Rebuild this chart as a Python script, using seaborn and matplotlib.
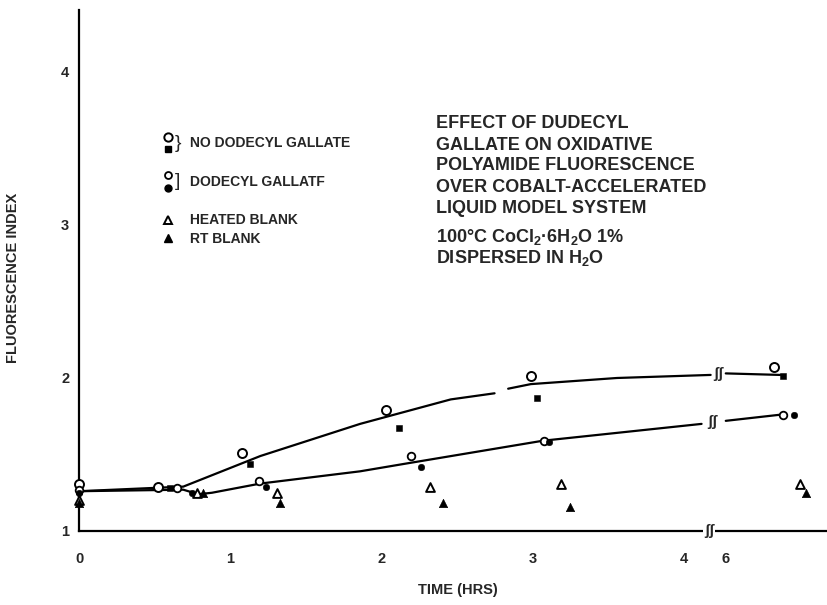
import numpy as np
import matplotlib
matplotlib.use("Agg")
import matplotlib.pyplot as plt
import seaborn as sns

# ---- measured values: time (hrs) and fluorescence index ----
no_dg_open_t = [0.0, 0.52, 1.08, 2.03, 2.99, 6.32]
no_dg_open_v = [1.31, 1.29, 1.51, 1.79, 2.01, 2.07]
no_dg_fill_t = [0.0, 0.60, 1.13, 2.12, 3.03, 6.38]
no_dg_fill_v = [1.26, 1.28, 1.44, 1.67, 1.87, 2.01]
dg_open_t = [0.0, 0.65, 1.19, 2.20, 3.08, 6.38]
dg_open_v = [1.27, 1.28, 1.33, 1.49, 1.59, 1.76]
dg_fill_t = [0.0, 0.75, 1.24, 2.26, 3.11, 6.45]
dg_fill_v = [1.25, 1.25, 1.29, 1.42, 1.58, 1.76]
heated_t = [0.0, 0.78, 1.31, 2.32, 3.19, 6.49]
heated_v = [1.20, 1.25, 1.25, 1.29, 1.31, 1.31]
rt_t = [0.0, 0.82, 1.33, 2.41, 3.25, 6.53]
rt_v = [1.18, 1.25, 1.18, 1.18, 1.16, 1.25]

# ---- hand-drawn trend curves (segments before and after the axis break) ----
upper_a_t = [0.0, 0.69, 1.20, 1.86, 2.46, 2.75]
upper_a_v = [1.26, 1.29, 1.49, 1.70, 1.86, 1.90]
upper_b_t = [2.84, 2.99, 3.56, 4.18]
upper_b_v = [1.93, 1.96, 2.00, 2.02]
upper_tail_t = [6.0, 6.36]
upper_tail_v = [2.03, 2.02]
lower_t = [0.0, 0.69, 0.79, 0.88, 1.20, 1.86, 2.16, 3.07, 4.12]
lower_v = [1.26, 1.27, 1.24, 1.25, 1.31, 1.39, 1.44, 1.59, 1.70]
lower_tail_t = [6.0, 6.36]
lower_tail_v = [1.72, 1.76]

x_ticks = [0, 1, 2, 3, 4, 6]
x_ticklabels = ["0", "1", "2", "3", "4", "6"]
y_ticks = [1, 2, 3, 4]

title_lines = ["EFFECT OF DUDECYL", "GALLATE ON OXIDATIVE", "POLYAMIDE FLUORESCENCE",
               "OVER COBALT-ACCELERATED", "LIQUID MODEL SYSTEM"]
cond_lines = [r"100°C CoCl$_2$·6H$_2$O 1%", r"DISPERSED IN H$_2$O"]
legend_labels = ["NO DODECYL GALLATE", "DODECYL GALLATF", "HEATED BLANK", "RT BLANK"]

sns.set_style("white")
plt.rcParams["font.family"] = ["Liberation Sans", "DejaVu Sans"]
plt.rcParams["font.weight"] = "bold"
plt.rcParams["mathtext.fontset"] = "custom"
plt.rcParams["mathtext.rm"] = "Liberation Sans:bold"
plt.rcParams["mathtext.it"] = "Liberation Sans:bold"
plt.rcParams["mathtext.bf"] = "Liberation Sans:bold"

W, H = 827, 605
fig = plt.figure(figsize=(W / 100, H / 100), dpi=100)
ax = fig.add_axes([79 / W, 1 - 531 / H, (W - 79) / W, (531 - 10) / H])


# broken time axis: 4 -> 6 hrs squeezed into a short gap
def fwd(x):
    x = np.asarray(x, dtype=float)
    return np.where(x <= 4.2, x, np.where(x >= 6.0, x - 1.72, 4.2 + (x - 4.2) * 0.08 / 1.8))


def inv(p):
    p = np.asarray(p, dtype=float)
    return np.where(p <= 4.2, p, np.where(p >= 4.28, p + 1.72, 4.2 + (p - 4.2) * 1.8 / 0.08))


ax.set_xscale("function", functions=(fwd, inv))
ax.set_xlim(0, 6.67)
ax.set_ylim(1, 4.405)

line_kw = dict(color="black", linewidth=1.6, estimator=None, sort=False, ax=ax)
for xs, ys in [(upper_a_t, upper_a_v), (upper_b_t, upper_b_v), (upper_tail_t, upper_tail_v),
               (lower_t, lower_v), (lower_tail_t, lower_tail_v)]:
    sns.lineplot(x=xs, y=ys, **line_kw)

pt_kw = dict(ax=ax, color="black", clip_on=False, zorder=5)
sns.scatterplot(x=no_dg_open_t, y=no_dg_open_v, marker="o", s=42, facecolor="white",
                edgecolor="black", linewidth=1.4, ax=ax, clip_on=False, zorder=5)
sns.scatterplot(x=no_dg_fill_t, y=no_dg_fill_v, marker="s", s=22, edgecolor="black", **pt_kw)
sns.scatterplot(x=dg_open_t, y=dg_open_v, marker="o", s=30, facecolor="white",
                edgecolor="black", linewidth=1.3, ax=ax, clip_on=False, zorder=5)
sns.scatterplot(x=dg_fill_t, y=dg_fill_v, marker="o", s=22, edgecolor="black", **pt_kw)
sns.scatterplot(x=heated_t, y=heated_v, marker="^", s=40, facecolor="white",
                edgecolor="black", linewidth=1.4, ax=ax, clip_on=False, zorder=5)
sns.scatterplot(x=rt_t, y=rt_v, marker="^", s=36, edgecolor="black", **pt_kw)

# break symbols on the axis and on the curves
brk = dict(ha="center", va="center", fontsize=11, fontweight="bold", zorder=7, clip_on=False,
           bbox=dict(boxstyle="square,pad=0.05", facecolor="white", edgecolor="none"))
ax.text(4.17, 1.0, "ʃʃ", **brk)
ax.text(4.85, 2.025, "ʃʃ", **brk)
ax.text(4.19, 1.71, "ʃʃ", **brk)

sns.despine(ax=ax)
for side in ("left", "bottom"):
    ax.spines[side].set_linewidth(1.6)
    ax.spines[side].set_color("black")

ax.set_xticks(x_ticks)
ax.set_xticklabels(x_ticklabels)
ax.set_yticks(y_ticks)
ax.set_yticklabels([str(v) for v in y_ticks])
ax.minorticks_off()
ax.tick_params(axis="x", direction="in", length=5, width=1.3, pad=15, labelsize=10.5)
ax.tick_params(axis="y", direction="in", length=5, width=1.3, pad=7, labelsize=10.5)

ax.set_xlabel("TIME (HRS)", fontsize=10.5, fontweight="bold")
ax.set_ylabel("FLUORESCENCE INDEX", fontsize=10.5, fontweight="bold")
ax.xaxis.set_label_coords((458 - 79) / (W - 79), -(590 - 531) / (531 - 10))
ax.xaxis.label.set_va("center")
ax.yaxis.set_label_coords(-(79 - 20) / (W - 79), (531 - 278) / (531 - 10))

# title block
for i, line in enumerate(title_lines):
    fig.text(436 / W, 1 - (124 + i * 21) / H, line, fontsize=13, fontweight="bold",
             ha="left", va="center")
for i, line in enumerate(cond_lines):
    fig.text(436 / W, 1 - (237 + i * 21) / H, line, fontsize=13, fontweight="bold",
             ha="left", va="center")

# key
mk = dict(transform=fig.transFigure, clip_on=False, color="black", linestyle="none")
fx = lambda px: px / W
fy = lambda py: 1 - py / H
ax.plot([fx(168)], [fy(137)], marker="o", markersize=6, markerfacecolor="white", markeredgewidth=1.4, **mk)
ax.plot([fx(168)], [fy(149)], marker="s", markersize=5, **mk)
ax.plot([fx(168)], [fy(175)], marker="o", markersize=5, markerfacecolor="white", markeredgewidth=1.3, **mk)
ax.plot([fx(168)], [fy(188)], marker="o", markersize=5, **mk)
ax.plot([fx(168)], [fy(220)], marker="^", markersize=6, markerfacecolor="white", markeredgewidth=1.4, **mk)
ax.plot([fx(168)], [fy(238)], marker="^", markersize=6, **mk)
fig.text(fx(175), fy(144), "}", fontsize=14, ha="left", va="center", fontweight="normal")
fig.text(fx(175), fy(182), "]", fontsize=14, ha="left", va="center", fontweight="normal")
key_y = [143, 182, 220, 239]
for lab, py in zip(legend_labels, key_y):
    fig.text(fx(190), fy(py), lab, fontsize=10, fontweight="bold", ha="left", va="center")

fig.savefig("out.png", dpi=100)
